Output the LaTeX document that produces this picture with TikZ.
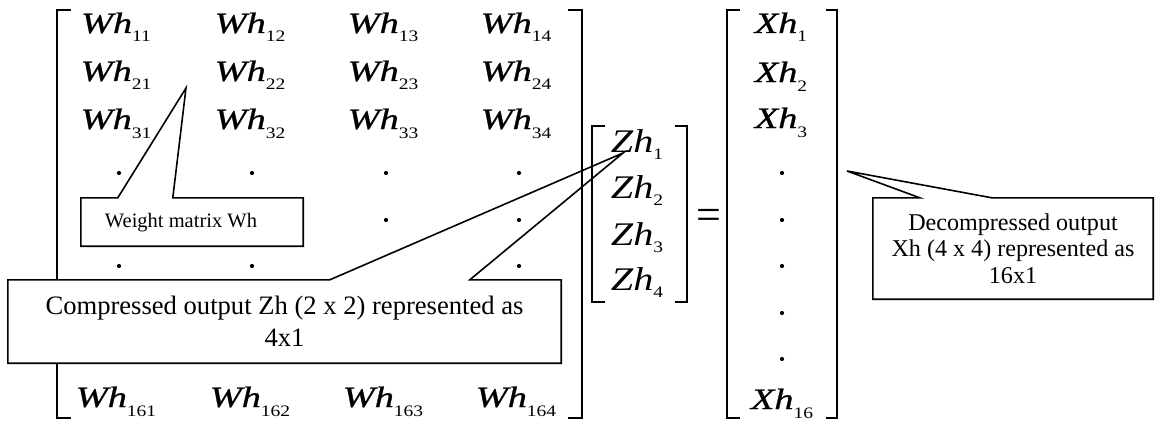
\documentclass[tikz,border=0pt]{standalone}
\usepackage{fontspec}
\setmainfont{Liberation Serif}
\newfontfamily\entfont{Liberation Serif}[FakeStretch=1.22]
\newfontfamily\wfont{Liberation Serif}[FakeStretch=1.3, FakeBold=0.9]
\usetikzlibrary{calc}
\newcommand{\Went}[2]{{\fontsize{29.5}{29.5}\selectfont\wfont\itshape #1}\raisebox{-9pt}{\fontsize{16}{16}\selectfont\entfont #2}}
\newcommand{\Zent}[1]{{\fontsize{33}{33}\selectfont\entfont\itshape Zh}\raisebox{-7pt}{\fontsize{16}{16}\selectfont\entfont #1}}
\begin{document}
\begin{tikzpicture}[x=1pt,y=-1pt,
  brk/.style={line width=1.3pt},
  callout/.style={line width=1.6pt, line join=miter},
  ent/.style={anchor=base, inner sep=0pt},
  cbox/.style={fill=white, draw=none, inner sep=0pt},
  dotmark/.style={fill=black}]
\useasboundingbox (0,0) rectangle (1155,420);
% brackets
\draw[brk] (71,10) -- (57,10) -- (57,418) -- (71,418);
\draw[brk] (568,10) -- (582,10) -- (582,418) -- (568,418);
\draw[brk] (605,126) -- (592,126) -- (592,302) -- (605,302);
\draw[brk] (675,126) -- (687,126) -- (687,302) -- (675,302);
\draw[brk] (740,10) -- (727,10) -- (727,418) -- (740,418);
\draw[brk] (826,10) -- (837,10) -- (837,418) -- (826,418);
% W entries
\foreach \c/\x in {1/116,2/250,3/383,4/516} {
  \foreach \r/\y in {1/33,2/81,3/129} {
    \node[ent] (w\r\c) at (\x,\y) {\Went{Wh}{\r\c}};
  }
  \node[ent] (w16\c) at (\x,407) {\Went{Wh}{16\c}};
}
% Zh entries
\foreach \r/\y in {1/152,2/198,3/245,4/290} {
  \node[ent] (z\r) at (637,\y) {\Zent{\r}};
}
% equals
\node[ent] (eq) at (708.5,229) {\fontsize{44}{44}\selectfont =};
% Xh entries
\foreach \r/\y in {1/33,2/82,3/128} {
  \node[ent] (x\r) at (781,\y) {\Went{Xh}{\r}};
}
\node[ent] (x16) at (782,409) {\Went{Xh}{16}};
% callout: weight matrix
\node[cbox, minimum width=222pt, minimum height=48pt] (wbox) at (192,222) {};
\coordinate (wtip) at (186,88);
\draw[callout] (wbox.north west) -- ($(wbox.north west)+(37,0)$) -- (wtip)
  -- ($(wbox.north west)+(92,0)$) -- (wbox.north east) -- (wbox.south east)
  -- (wbox.south west) -- cycle;
\node[anchor=base, inner sep=0pt] (wtext) at (181,227) {\fontsize{20.5}{24}\selectfont Weight matrix Wh};
% callout: compressed
\node[cbox, minimum width=553pt, minimum height=83pt, align=center,
  font=\fontsize{26.6}{32}\selectfont] (cbox) at (284.5,321.5)
  {Compressed output Zh (2 x 2) represented as\\4x1};
\coordinate (ctip) at (623,153);
\draw[callout] (cbox.north west) -- ($(cbox.north west)+(322,0)$) -- (ctip)
  -- ($(cbox.north west)+(462,0)$) -- (cbox.north east) -- (cbox.south east)
  -- (cbox.south west) -- cycle;
% callout: decompressed
\node[cbox, minimum width=280pt, minimum height=101pt, align=center,
  font=\fontsize{24.1}{26.5}\selectfont] (dbox) at (1013,248.5)
  {Decompressed output\\Xh (4 x 4) represented as\\16x1};
\coordinate (dtip) at (847,171);
\draw[callout] (dbox.north west) -- ($(dbox.north west)+(47,0)$) -- (dtip)
  -- ($(dbox.north west)+(119,0)$) -- (dbox.north east) -- (dbox.south east)
  -- (dbox.south west) -- cycle;
% dots
\foreach \p in {(119,173),(252,173),(386,173),(519,173),(386,220),(519,220),(119,266),(252,266),(519,266),
  (782,173),(782,220),(782,266),(782,313),(782,359)} {
  \fill[dotmark] \p circle[radius=2.1pt];
}
\end{tikzpicture}
\end{document}
